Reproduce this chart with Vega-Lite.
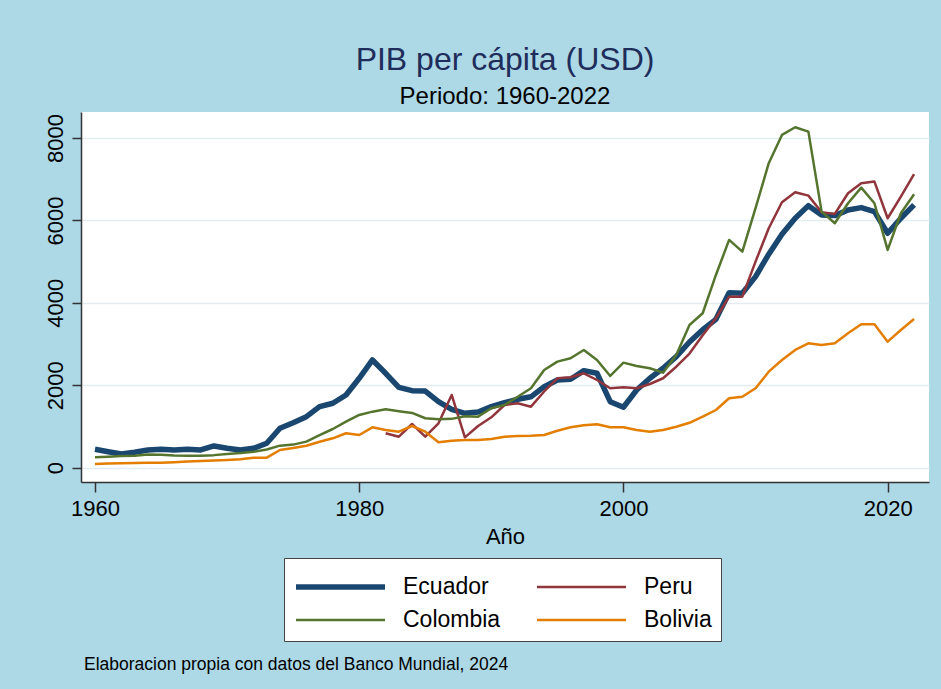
{
  "$schema": "https://vega.github.io/schema/vega-lite/v6.json",
  "autosize": "none",
  "width": 848,
  "height": 370,
  "padding": {"left": 81, "top": 112, "right": 12, "bottom": 207},
  "background": "#add8e6",
  "title": {
    "text": "PIB per cápita (USD)",
    "subtitle": "Periodo: 1960-2022",
    "anchor": "middle",
    "frame": "group",
    "font": "Liberation Sans",
    "fontSize": 32,
    "fontWeight": "normal",
    "color": "#1e2d5a",
    "subtitleFont": "Liberation Sans",
    "subtitleFontSize": 24,
    "subtitleColor": "#000000",
    "subtitlePadding": 8,
    "offset": 2
  },
  "config": {
    "view": {"fill": "white", "stroke": null},
    "font": "Liberation Sans"
  },
  "data": {
    "values": [
      {"country": "Ecuador", "year": 1960, "gdp": 446},
      {"country": "Ecuador", "year": 1961, "gdp": 388},
      {"country": "Ecuador", "year": 1962, "gdp": 333},
      {"country": "Ecuador", "year": 1963, "gdp": 373},
      {"country": "Ecuador", "year": 1964, "gdp": 430},
      {"country": "Ecuador", "year": 1965, "gdp": 446},
      {"country": "Ecuador", "year": 1966, "gdp": 430},
      {"country": "Ecuador", "year": 1967, "gdp": 446},
      {"country": "Ecuador", "year": 1968, "gdp": 430},
      {"country": "Ecuador", "year": 1969, "gdp": 527},
      {"country": "Ecuador", "year": 1970, "gdp": 470},
      {"country": "Ecuador", "year": 1971, "gdp": 430},
      {"country": "Ecuador", "year": 1972, "gdp": 470},
      {"country": "Ecuador", "year": 1973, "gdp": 592},
      {"country": "Ecuador", "year": 1974, "gdp": 956},
      {"country": "Ecuador", "year": 1975, "gdp": 1092},
      {"country": "Ecuador", "year": 1976, "gdp": 1238},
      {"country": "Ecuador", "year": 1977, "gdp": 1481},
      {"country": "Ecuador", "year": 1978, "gdp": 1563},
      {"country": "Ecuador", "year": 1979, "gdp": 1764},
      {"country": "Ecuador", "year": 1980, "gdp": 2169},
      {"country": "Ecuador", "year": 1981, "gdp": 2614},
      {"country": "Ecuador", "year": 1982, "gdp": 2291},
      {"country": "Ecuador", "year": 1983, "gdp": 1951},
      {"country": "Ecuador", "year": 1984, "gdp": 1869},
      {"country": "Ecuador", "year": 1985, "gdp": 1860},
      {"country": "Ecuador", "year": 1986, "gdp": 1602},
      {"country": "Ecuador", "year": 1987, "gdp": 1417},
      {"country": "Ecuador", "year": 1988, "gdp": 1320},
      {"country": "Ecuador", "year": 1989, "gdp": 1352},
      {"country": "Ecuador", "year": 1990, "gdp": 1481},
      {"country": "Ecuador", "year": 1991, "gdp": 1580},
      {"country": "Ecuador", "year": 1992, "gdp": 1660},
      {"country": "Ecuador", "year": 1993, "gdp": 1720},
      {"country": "Ecuador", "year": 1994, "gdp": 1966},
      {"country": "Ecuador", "year": 1995, "gdp": 2129},
      {"country": "Ecuador", "year": 1996, "gdp": 2145},
      {"country": "Ecuador", "year": 1997, "gdp": 2355},
      {"country": "Ecuador", "year": 1998, "gdp": 2291},
      {"country": "Ecuador", "year": 1999, "gdp": 1602},
      {"country": "Ecuador", "year": 2000, "gdp": 1466},
      {"country": "Ecuador", "year": 2001, "gdp": 1886},
      {"country": "Ecuador", "year": 2002, "gdp": 2170},
      {"country": "Ecuador", "year": 2003, "gdp": 2412},
      {"country": "Ecuador", "year": 2004, "gdp": 2694},
      {"country": "Ecuador", "year": 2005, "gdp": 3050},
      {"country": "Ecuador", "year": 2006, "gdp": 3350},
      {"country": "Ecuador", "year": 2007, "gdp": 3600},
      {"country": "Ecuador", "year": 2008, "gdp": 4248},
      {"country": "Ecuador", "year": 2009, "gdp": 4233},
      {"country": "Ecuador", "year": 2010, "gdp": 4636},
      {"country": "Ecuador", "year": 2011, "gdp": 5180},
      {"country": "Ecuador", "year": 2012, "gdp": 5665},
      {"country": "Ecuador", "year": 2013, "gdp": 6053},
      {"country": "Ecuador", "year": 2014, "gdp": 6359},
      {"country": "Ecuador", "year": 2015, "gdp": 6133},
      {"country": "Ecuador", "year": 2016, "gdp": 6117},
      {"country": "Ecuador", "year": 2017, "gdp": 6255},
      {"country": "Ecuador", "year": 2018, "gdp": 6311},
      {"country": "Ecuador", "year": 2019, "gdp": 6214},
      {"country": "Ecuador", "year": 2020, "gdp": 5689},
      {"country": "Ecuador", "year": 2021, "gdp": 6053},
      {"country": "Ecuador", "year": 2022, "gdp": 6376},
      {"country": "Peru", "year": 1982, "gdp": 835},
      {"country": "Peru", "year": 1983, "gdp": 752},
      {"country": "Peru", "year": 1984, "gdp": 1060},
      {"country": "Peru", "year": 1985, "gdp": 752},
      {"country": "Peru", "year": 1986, "gdp": 1077},
      {"country": "Peru", "year": 1987, "gdp": 1765},
      {"country": "Peru", "year": 1988, "gdp": 737},
      {"country": "Peru", "year": 1989, "gdp": 1012},
      {"country": "Peru", "year": 1990, "gdp": 1223},
      {"country": "Peru", "year": 1991, "gdp": 1522},
      {"country": "Peru", "year": 1992, "gdp": 1563},
      {"country": "Peru", "year": 1993, "gdp": 1481},
      {"country": "Peru", "year": 1994, "gdp": 1850},
      {"country": "Peru", "year": 1995, "gdp": 2170},
      {"country": "Peru", "year": 1996, "gdp": 2194},
      {"country": "Peru", "year": 1997, "gdp": 2291},
      {"country": "Peru", "year": 1998, "gdp": 2128},
      {"country": "Peru", "year": 1999, "gdp": 1927},
      {"country": "Peru", "year": 2000, "gdp": 1951},
      {"country": "Peru", "year": 2001, "gdp": 1927},
      {"country": "Peru", "year": 2002, "gdp": 2031},
      {"country": "Peru", "year": 2003, "gdp": 2170},
      {"country": "Peru", "year": 2004, "gdp": 2450},
      {"country": "Peru", "year": 2005, "gdp": 2770},
      {"country": "Peru", "year": 2006, "gdp": 3216},
      {"country": "Peru", "year": 2007, "gdp": 3626},
      {"country": "Peru", "year": 2008, "gdp": 4151},
      {"country": "Peru", "year": 2009, "gdp": 4151},
      {"country": "Peru", "year": 2010, "gdp": 5000},
      {"country": "Peru", "year": 2011, "gdp": 5810},
      {"country": "Peru", "year": 2012, "gdp": 6441},
      {"country": "Peru", "year": 2013, "gdp": 6684},
      {"country": "Peru", "year": 2014, "gdp": 6602},
      {"country": "Peru", "year": 2015, "gdp": 6199},
      {"country": "Peru", "year": 2016, "gdp": 6158},
      {"country": "Peru", "year": 2017, "gdp": 6660},
      {"country": "Peru", "year": 2018, "gdp": 6903},
      {"country": "Peru", "year": 2019, "gdp": 6942},
      {"country": "Peru", "year": 2020, "gdp": 6053},
      {"country": "Peru", "year": 2021, "gdp": 6578},
      {"country": "Peru", "year": 2022, "gdp": 7121},
      {"country": "Colombia", "year": 1960, "gdp": 252},
      {"country": "Colombia", "year": 1961, "gdp": 268},
      {"country": "Colombia", "year": 1962, "gdp": 285},
      {"country": "Colombia", "year": 1963, "gdp": 290},
      {"country": "Colombia", "year": 1964, "gdp": 320},
      {"country": "Colombia", "year": 1965, "gdp": 315},
      {"country": "Colombia", "year": 1966, "gdp": 295},
      {"country": "Colombia", "year": 1967, "gdp": 290},
      {"country": "Colombia", "year": 1968, "gdp": 292},
      {"country": "Colombia", "year": 1969, "gdp": 305},
      {"country": "Colombia", "year": 1970, "gdp": 335},
      {"country": "Colombia", "year": 1971, "gdp": 355},
      {"country": "Colombia", "year": 1972, "gdp": 385},
      {"country": "Colombia", "year": 1973, "gdp": 440},
      {"country": "Colombia", "year": 1974, "gdp": 535},
      {"country": "Colombia", "year": 1975, "gdp": 560},
      {"country": "Colombia", "year": 1976, "gdp": 632},
      {"country": "Colombia", "year": 1977, "gdp": 793},
      {"country": "Colombia", "year": 1978, "gdp": 939},
      {"country": "Colombia", "year": 1979, "gdp": 1117},
      {"country": "Colombia", "year": 1980, "gdp": 1279},
      {"country": "Colombia", "year": 1981, "gdp": 1360},
      {"country": "Colombia", "year": 1982, "gdp": 1417},
      {"country": "Colombia", "year": 1983, "gdp": 1370},
      {"country": "Colombia", "year": 1984, "gdp": 1330},
      {"country": "Colombia", "year": 1985, "gdp": 1200},
      {"country": "Colombia", "year": 1986, "gdp": 1175},
      {"country": "Colombia", "year": 1987, "gdp": 1185},
      {"country": "Colombia", "year": 1988, "gdp": 1250},
      {"country": "Colombia", "year": 1989, "gdp": 1238},
      {"country": "Colombia", "year": 1990, "gdp": 1441},
      {"country": "Colombia", "year": 1991, "gdp": 1522},
      {"country": "Colombia", "year": 1992, "gdp": 1723},
      {"country": "Colombia", "year": 1993, "gdp": 1927},
      {"country": "Colombia", "year": 1994, "gdp": 2371},
      {"country": "Colombia", "year": 1995, "gdp": 2573},
      {"country": "Colombia", "year": 1996, "gdp": 2655},
      {"country": "Colombia", "year": 1997, "gdp": 2857},
      {"country": "Colombia", "year": 1998, "gdp": 2614},
      {"country": "Colombia", "year": 1999, "gdp": 2226},
      {"country": "Colombia", "year": 2000, "gdp": 2549},
      {"country": "Colombia", "year": 2001, "gdp": 2468},
      {"country": "Colombia", "year": 2002, "gdp": 2412},
      {"country": "Colombia", "year": 2003, "gdp": 2306},
      {"country": "Colombia", "year": 2004, "gdp": 2735},
      {"country": "Colombia", "year": 2005, "gdp": 3464},
      {"country": "Colombia", "year": 2006, "gdp": 3747},
      {"country": "Colombia", "year": 2007, "gdp": 4677},
      {"country": "Colombia", "year": 2008, "gdp": 5527},
      {"country": "Colombia", "year": 2009, "gdp": 5243},
      {"country": "Colombia", "year": 2010, "gdp": 6296},
      {"country": "Colombia", "year": 2011, "gdp": 7388},
      {"country": "Colombia", "year": 2012, "gdp": 8075},
      {"country": "Colombia", "year": 2013, "gdp": 8262},
      {"country": "Colombia", "year": 2014, "gdp": 8155},
      {"country": "Colombia", "year": 2015, "gdp": 6214},
      {"country": "Colombia", "year": 2016, "gdp": 5932},
      {"country": "Colombia", "year": 2017, "gdp": 6417},
      {"country": "Colombia", "year": 2018, "gdp": 6796},
      {"country": "Colombia", "year": 2019, "gdp": 6417},
      {"country": "Colombia", "year": 2020, "gdp": 5284},
      {"country": "Colombia", "year": 2021, "gdp": 6175},
      {"country": "Colombia", "year": 2022, "gdp": 6636},
      {"country": "Bolivia", "year": 1960, "gdp": 90},
      {"country": "Bolivia", "year": 1961, "gdp": 100},
      {"country": "Bolivia", "year": 1962, "gdp": 108},
      {"country": "Bolivia", "year": 1963, "gdp": 112},
      {"country": "Bolivia", "year": 1964, "gdp": 118},
      {"country": "Bolivia", "year": 1965, "gdp": 121},
      {"country": "Bolivia", "year": 1966, "gdp": 135},
      {"country": "Bolivia", "year": 1967, "gdp": 150},
      {"country": "Bolivia", "year": 1968, "gdp": 165},
      {"country": "Bolivia", "year": 1969, "gdp": 175},
      {"country": "Bolivia", "year": 1970, "gdp": 187},
      {"country": "Bolivia", "year": 1971, "gdp": 205},
      {"country": "Bolivia", "year": 1972, "gdp": 243},
      {"country": "Bolivia", "year": 1973, "gdp": 243},
      {"country": "Bolivia", "year": 1974, "gdp": 430},
      {"country": "Bolivia", "year": 1975, "gdp": 478},
      {"country": "Bolivia", "year": 1976, "gdp": 534},
      {"country": "Bolivia", "year": 1977, "gdp": 631},
      {"country": "Bolivia", "year": 1978, "gdp": 713},
      {"country": "Bolivia", "year": 1979, "gdp": 835},
      {"country": "Bolivia", "year": 1980, "gdp": 794},
      {"country": "Bolivia", "year": 1981, "gdp": 980},
      {"country": "Bolivia", "year": 1982, "gdp": 915},
      {"country": "Bolivia", "year": 1983, "gdp": 874},
      {"country": "Bolivia", "year": 1984, "gdp": 1012},
      {"country": "Bolivia", "year": 1985, "gdp": 874},
      {"country": "Bolivia", "year": 1986, "gdp": 616},
      {"country": "Bolivia", "year": 1987, "gdp": 655},
      {"country": "Bolivia", "year": 1988, "gdp": 672},
      {"country": "Bolivia", "year": 1989, "gdp": 672},
      {"country": "Bolivia", "year": 1990, "gdp": 697},
      {"country": "Bolivia", "year": 1991, "gdp": 752},
      {"country": "Bolivia", "year": 1992, "gdp": 769},
      {"country": "Bolivia", "year": 1993, "gdp": 777},
      {"country": "Bolivia", "year": 1994, "gdp": 794},
      {"country": "Bolivia", "year": 1995, "gdp": 898},
      {"country": "Bolivia", "year": 1996, "gdp": 980},
      {"country": "Bolivia", "year": 1997, "gdp": 1029},
      {"country": "Bolivia", "year": 1998, "gdp": 1053},
      {"country": "Bolivia", "year": 1999, "gdp": 980},
      {"country": "Bolivia", "year": 2000, "gdp": 980},
      {"country": "Bolivia", "year": 2001, "gdp": 915},
      {"country": "Bolivia", "year": 2002, "gdp": 874},
      {"country": "Bolivia", "year": 2003, "gdp": 915},
      {"country": "Bolivia", "year": 2004, "gdp": 995},
      {"country": "Bolivia", "year": 2005, "gdp": 1090},
      {"country": "Bolivia", "year": 2006, "gdp": 1238},
      {"country": "Bolivia", "year": 2007, "gdp": 1400},
      {"country": "Bolivia", "year": 2008, "gdp": 1684},
      {"country": "Bolivia", "year": 2009, "gdp": 1723},
      {"country": "Bolivia", "year": 2010, "gdp": 1927},
      {"country": "Bolivia", "year": 2011, "gdp": 2330},
      {"country": "Bolivia", "year": 2012, "gdp": 2614},
      {"country": "Bolivia", "year": 2013, "gdp": 2857},
      {"country": "Bolivia", "year": 2014, "gdp": 3019},
      {"country": "Bolivia", "year": 2015, "gdp": 2978},
      {"country": "Bolivia", "year": 2016, "gdp": 3019},
      {"country": "Bolivia", "year": 2017, "gdp": 3262},
      {"country": "Bolivia", "year": 2018, "gdp": 3480},
      {"country": "Bolivia", "year": 2019, "gdp": 3480},
      {"country": "Bolivia", "year": 2020, "gdp": 3058},
      {"country": "Bolivia", "year": 2021, "gdp": 3342},
      {"country": "Bolivia", "year": 2022, "gdp": 3609}
    ]
  },
  "mark": {"type": "line", "strokeJoin": "round"},
  "encoding": {
    "x": {
      "field": "year",
      "type": "quantitative",
      "scale": {"domain": [1958.94, 2023.13], "nice": false, "zero": false},
      "axis": {
        "values": [1960, 1980, 2000, 2020],
        "format": "d",
        "title": "Año",
        "grid": false,
        "domainColor": "#333333",
        "domainWidth": 1.5,
        "tickColor": "#333333",
        "tickWidth": 1.5,
        "tickSize": 10,
        "labelFont": "Liberation Sans",
        "labelFontSize": 22,
        "labelColor": "#000000",
        "labelPadding": 6,
        "labelFlush": false,
        "titleFont": "Liberation Sans",
        "titleFontSize": 22,
        "titleFontWeight": "normal",
        "titleColor": "#000000",
        "titleBaseline": "alphabetic",
        "titleY": 61
      }
    },
    "y": {
      "field": "gdp",
      "type": "quantitative",
      "scale": {"domain": [-347, 8631], "nice": false, "zero": false},
      "axis": {
        "values": [0, 2000, 4000, 6000, 8000],
        "format": "d",
        "grid": true,
        "gridColor": "#e3edf1",
        "gridWidth": 1.5,
        "domainColor": "#333333",
        "domainWidth": 1.5,
        "tickColor": "#333333",
        "tickWidth": 1.5,
        "tickSize": 9,
        "labelAngle": -90,
        "labelAlign": "center",
        "labelBaseline": "alphabetic",
        "labelPadding": 10,
        "labelFont": "Liberation Sans",
        "labelFontSize": 22,
        "labelColor": "#000000",
        "title": "Elaboracion propia con datos del Banco Mundial, 2024",
        "titleAngle": 0,
        "titleX": 2.5,
        "titleY": 557,
        "titleAlign": "left",
        "titleBaseline": "alphabetic",
        "titleFont": "Liberation Sans",
        "titleFontSize": 17.5,
        "titleFontWeight": "normal",
        "titleColor": "#000000"
      }
    },
    "color": {
      "field": "country",
      "type": "nominal",
      "scale": {"domain": ["Ecuador", "Peru", "Colombia", "Bolivia"], "range": ["#1a476f", "#90353b", "#55752f", "#e37e00"]},
      "legend": {
        "title": " ",
        "titleFontSize": 1,
        "titlePadding": 8,
        "orient": "none",
        "legendX": 203,
        "legendY": 446,
        "direction": "horizontal",
        "columns": 2,
        "symbolType": "stroke",
        "symbolSize": 7921,
        "clipHeight": 22,
        "labelFont": "Liberation Sans",
        "labelFontSize": 23,
        "labelColor": "#000000",
        "labelOffset": 15,
        "labelLimit": 300,
        "columnPadding": 33,
        "rowPadding": 10,
        "padding": 9,
        "fillColor": "white",
        "strokeColor": "#444444"
      }
    },
    "strokeWidth": {
      "field": "country",
      "type": "nominal",
      "scale": {"type": "ordinal", "domain": ["Ecuador", "Peru", "Colombia", "Bolivia"], "range": [5.5, 2.5, 2.5, 2.5]},
      "legend": {
        "title": " ",
        "titleFontSize": 1,
        "titlePadding": 8,
        "orient": "none",
        "legendX": 203,
        "legendY": 446,
        "direction": "horizontal",
        "columns": 2,
        "symbolType": "stroke",
        "symbolSize": 7921,
        "clipHeight": 22,
        "labelFont": "Liberation Sans",
        "labelFontSize": 23,
        "labelColor": "#000000",
        "labelOffset": 15,
        "labelLimit": 300,
        "columnPadding": 33,
        "rowPadding": 10,
        "padding": 9,
        "fillColor": "white",
        "strokeColor": "#444444"
      }
    }
  }
}
